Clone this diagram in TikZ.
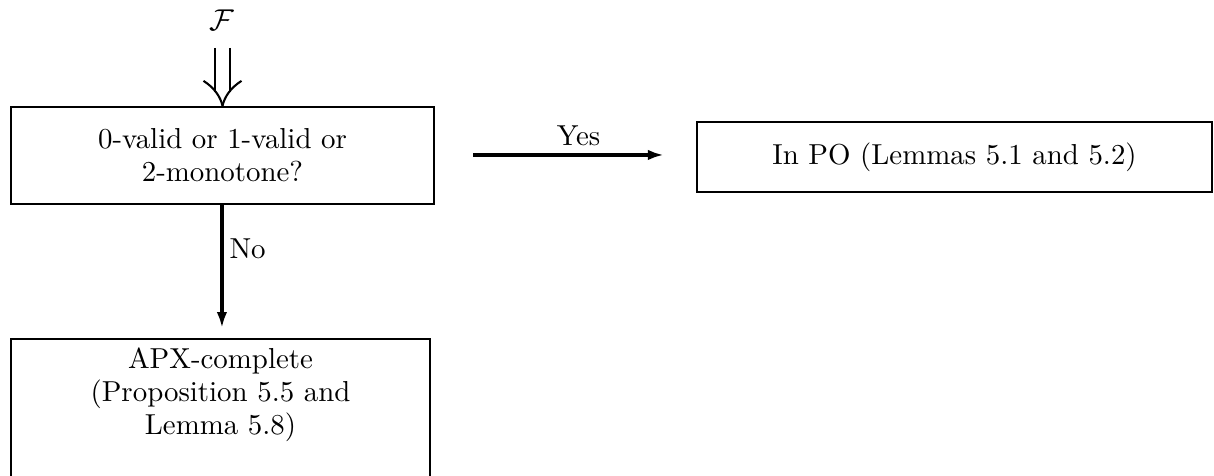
\documentclass[tikz,border=0pt]{standalone}
\usetikzlibrary{arrows.meta,calc}
\begin{document}
\begin{tikzpicture}[x=0.3636pt,y=-0.3636pt,
  every node/.style={font=\fontsize{10.5}{12}\selectfont},
  box/.style={draw,line width=0.82pt,align=center,inner sep=0pt},
  conn/.style={line width=1.15pt,-{Latex[length=5.8pt,width=3.8pt]}},
  dbl/.style={line width=0.75pt,line cap=butt}]
\useasboundingbox (0,0) rectangle (1214,475);
\node[box,minimum width={423*0.3636pt},minimum height={97*0.3636pt}] (q) at (222.5,155.5) {0-valid or 1-valid or\\2-monotone?};
\node[box,minimum width={515*0.3636pt},minimum height={70*0.3636pt}] (po) at (954.5,157) {In PO (Lemmas 5.1 and 5.2)};
\node[box,minimum width={419*0.3636pt},minimum height={170*0.3636pt},anchor=north] (apx) at (220.5,338) {};
\node[align=center,anchor=north,inner sep=0pt] (apxt) at (220.5,347) {APX-complete\\(Proposition 5.5 and\\Lemma 5.8)};
\node[inner sep=0pt] (F) at (222,20) {$\mathcal{F}$};
% double arrow from F into the first box
\coordinate (ftip) at (q.north);
\draw[dbl] ($(ftip)+(-7.5,-58)$) -- ($(ftip)+(-7.5,-14)$);
\draw[dbl] ($(ftip)+(7.5,-58)$) -- ($(ftip)+(7.5,-14)$);
\draw[dbl] ($(ftip)+(-19,-25)$) .. controls ($(ftip)+(-8,-18)$) and ($(ftip)+(-2,-9)$) .. (ftip);
\draw[dbl] ($(ftip)+(19,-25)$) .. controls ($(ftip)+(8,-18)$) and ($(ftip)+(2,-9)$) .. (ftip);
% Yes arrow
\draw[conn,shorten <=38*0.3636pt,shorten >=32*0.3636pt] ([yshift=0.2pt]q.east) -- ([yshift=0.2pt]q.east -| po.west)
  node[pos=0.55,above,inner sep=2.6pt] (yes) {Yes};
% No arrow
\draw[conn,shorten >=10*0.3636pt] ([xshift=-0.2pt]q.south) -- ([xshift=-0.2pt]q.south |- apx.north)
  node[pos=0.33,right,inner sep=2.2pt] (no) {No};
\end{tikzpicture}
\end{document}
